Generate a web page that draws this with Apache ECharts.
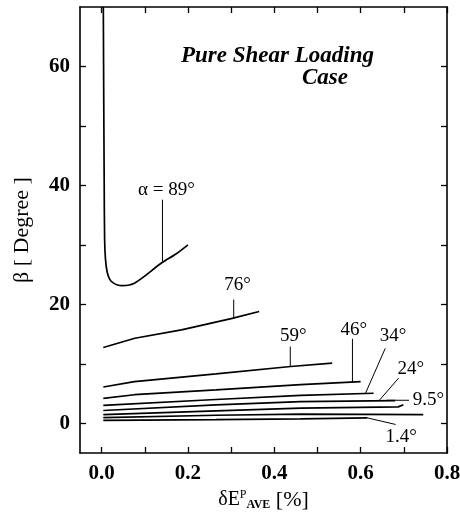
<!DOCTYPE html>
<html>
<head>
<meta charset="utf-8">
<script src="https://cdn.jsdelivr.net/npm/echarts@6/dist/echarts.min.js"></script>
<style>
  html, body { margin: 0; padding: 0; background: #fff; }
  #chart { width: 460px; height: 513px; }
</style>
</head>
<body>
<div id="chart"></div>
<script>
// tick values
var xTicks = [0, 0.2, 0.4, 0.6, 0.8];
var xMinorTicks = [0.1, 0.3, 0.5, 0.7];
var yTicks = [0, 20, 40, 60];
var yMinorTicks = [10, 30, 50];

// curves, [strain %, beta deg]
var curve89 = [[0.004, 70], [0.005, 54.4], [0.006, 40.9], [0.007, 31.0], [0.009, 27.6],
  [0.013, 25.4], [0.019, 24.2], [0.027, 23.6], [0.037, 23.25], [0.048, 23.15], [0.077, 23.6],
  [0.138, 26.9], [0.173, 28.5], [0.2, 30.0]];
var curve76 = [[0.004, 12.75], [0.077, 14.3], [0.185, 15.7], [0.3, 17.6], [0.365, 18.8]];
var curve59 = [[0.004, 6.1], [0.076, 7.0], [0.265, 8.3], [0.438, 9.55], [0.534, 10.1]];
var curve46 = [[0.004, 4.2], [0.076, 4.8], [0.265, 5.6], [0.461, 6.5], [0.6, 7.0]];
var curve34 = [[0.004, 3.0], [0.265, 4.0], [0.461, 4.7], [0.63, 5.05]];
var curve24 = [[0.004, 2.15], [0.265, 3.1], [0.461, 3.65], [0.68, 3.8]];
var curve95 = [[0.004, 1.45], [0.265, 2.1], [0.461, 2.55], [0.687, 2.75], [0.699, 3.1]];
var curveB = [[0.004, 0.95], [0.265, 1.35], [0.461, 1.55], [0.745, 1.45]];
var curve14 = [[0.004, 0.5], [0.265, 0.6], [0.461, 0.75], [0.616, 0.9]];

// annotation leaders and labels
var leaders = [
  [[0.141, 37.6], [0.141, 27.2]],
  [[0.306, 20.8], [0.306, 17.6]],
  [[0.437, 12.9], [0.437, 9.55]],
  [[0.581, 14.2], [0.581, 6.95]],
  [[0.611, 5.0], [0.657, 12.6]],
  [[0.642, 3.75], [0.688, 7.6]],
  [[0.66, 3.87], [0.712, 3.87]],
  [[0.616, 0.9], [0.681, -0.2]]
];
var labelNames = ['α = 89°', '76°', '59°', '46°', '34°', '24°', '9.5°', '1.4°'];
var labelAt = [[0.15, 39.2], [0.315, 23.2], [0.444, 14.6], [0.584, 15.6], [0.675, 14.6],
  [0.716, 9.2], [0.757, 3.95], [0.694, -2.3]];

var curves = [curve89, curve76, curve59, curve46, curve34, curve24, curve95, curveB, curve14];

var serif = '"Liberation Serif", "DejaVu Serif", serif';
var chart = echarts.init(document.getElementById('chart'));

var series = [];
curves.forEach(function (c) {
  series.push({
    type: 'line', data: c, showSymbol: false, symbol: 'none', silent: true,
    smooth: c === curve89 ? 0.3 : false,
    lineStyle: { color: '#000', width: 1.7 }
  });
});
leaders.forEach(function (l) {
  series.push({
    type: 'line', data: l, showSymbol: false, symbol: 'none', silent: true,
    lineStyle: { color: '#000', width: 1 }
  });
});
series.push({
  type: 'scatter', symbolSize: 0, silent: true,
  itemStyle: { opacity: 1, color: '#000' },
  data: labelAt.map(function (p, i) { return { value: p, name: labelNames[i] }; }),
  label: {
    show: true, position: 'inside', formatter: '{b}',
    fontFamily: serif, fontSize: 19, color: '#000'
  }
});

function axisBase(isX, pos, showLabel) {
  var ticks = isX ? xTicks : yTicks;
  var minor = isX ? xMinorTicks : yMinorTicks;
  return {
    type: 'value',
    position: pos,
    min: isX ? -0.05 : -5,
    max: isX ? 0.8 : 70,
    axisLine: { show: true, onZero: false, lineStyle: { color: '#000', width: 1.6 } },
    axisTick: {
      show: true, inside: true, length: 6,
      customValues: ticks.concat(minor),
      lineStyle: { color: '#000', width: 1.3 }
    },
    splitLine: { show: false },
    axisLabel: {
      show: showLabel,
      customValues: ticks,
      margin: 10,
      fontFamily: serif, fontSize: 21, fontWeight: 'bold', color: '#000',
      formatter: function (v) { return isX ? v.toFixed(1) : String(v); }
    }
  };
}

var xMain = axisBase(true, 'bottom', true);
xMain.name = '{a|δE}{sup|P}{sub|AVE}{b| [%]}';
xMain.nameLocation = 'middle';
xMain.nameGap = 33;
xMain.nameTextStyle = {
  fontFamily: serif, color: '#000',
  rich: {
    a: { fontFamily: serif, fontSize: 20, color: '#000', lineHeight: 22, verticalAlign: 'middle' },
    b: { fontFamily: serif, fontSize: 22, color: '#000', lineHeight: 22, verticalAlign: 'middle' },
    sup: { fontFamily: serif, fontSize: 12, color: '#000', lineHeight: 22, verticalAlign: 'top' },
    sub: { fontFamily: serif, fontSize: 12, fontWeight: 'bold', color: '#000', lineHeight: 22, verticalAlign: 'bottom' }
  }
};
var yMain = axisBase(false, 'left', true);
yMain.name = 'β [ Degree ]';
yMain.nameLocation = 'middle';
yMain.nameGap = 47;
yMain.nameTextStyle = { fontFamily: serif, fontSize: 22, color: '#000' };

var titleStyle = { fontFamily: serif, fontStyle: 'italic', fontWeight: 'bold', fontSize: 23, color: '#000' };
var option = {
  animation: false,
  backgroundColor: '#fff',
  title: [
    { text: 'Pure Shear Loading', left: 176, top: 40, textStyle: titleStyle },
    { text: 'Case', left: 297, top: 62, textStyle: titleStyle }
  ],
  grid: { left: 80, right: 13, top: 7, bottom: 60, outerBoundsMode: 'none' },
  xAxis: [xMain, axisBase(true, 'top', false)],
  yAxis: [yMain, axisBase(false, 'right', false)],
  series: series
};
chart.setOption(option);
</script>
</body>
</html>
